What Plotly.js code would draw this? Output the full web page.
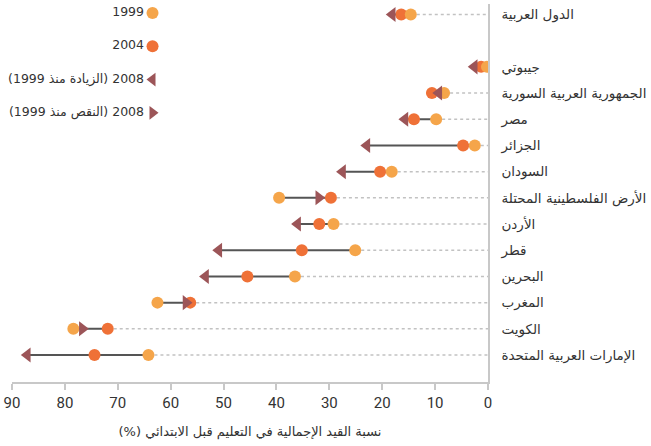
<!DOCTYPE html>
<html>
<head>
<meta charset="utf-8">
<script src="https://cdn.plot.ly/plotly-3.0.1.min.js"></script>
<style>body{margin:0;background:#fff}</style>
</head>
<body>
<div id="chart" style="width:651px;height:446px"></div>
<script>
// pre-primary gross enrolment ratio (%)
var countries = ['الدول العربية', 'جيبوتي', 'الجمهورية العربية السورية', 'مصر', 'الجزائر', 'السودان',
  'الأرض الفلسطينية المحتلة', 'الأردن', 'قطر', 'البحرين', 'المغرب', 'الكويت', 'الإمارات العربية المتحدة'];
var y1999 = [14.6, 0.2, 8.3, 9.8, 2.5, 18.2, 39.5, 29.2, 25.1, 36.5, 62.5, 78.4, 64.2];
var y2004 = [16.4, 1.3, 10.6, 14.0, 4.7, 20.4, 29.7, 31.9, 35.2, 45.5, 56.3, 71.9, 74.4];
var y2008 = [18.1, 2.6, 9.3, 15.7, 22.9, 27.5, 32.0, 36.0, 50.9, 53.4, 57.1, 76.7, 87.1];

var legendLabels = ['1999', '2004', '2008 (الزيادة منذ 1999)', '2008 (النقص منذ 1999)'];
var xTicks = [0, 10, 20, 30, 40, 50, 60, 70, 80, 90];

var c1999 = '#F5A54A', c2004 = '#EF7137', c2008 = '#9C5558';
var rtl = function (s) { return '\u202B' + s + '\u202C'; };

// first row (Arab States) is followed by an empty row
var rows = countries.map(function (d, i) { return i === 0 ? 0 : i + 1; });

var dotX = [], dotY = [], solX = [], solY = [];
countries.forEach(function (d, i) {
  var lo = Math.min(y1999[i], y2004[i], y2008[i]);
  var hi = Math.max(y1999[i], y2004[i], y2008[i]);
  dotX.push(lo, 0, null); dotY.push(rows[i], rows[i], null);
  solX.push(lo, hi, null); solY.push(rows[i], rows[i], null);
});

var tri = y2008.map(function (v, i) { return v >= y1999[i] ? 'triangle-left' : 'triangle-right'; });

var data = [
  {x: dotX, y: dotY, mode: 'lines', line: {color: '#c2c2c2', width: 1.5, dash: 'dot'}, hoverinfo: 'skip'},
  {x: solX, y: solY, mode: 'lines', line: {color: '#555', width: 2}, hoverinfo: 'skip'},
  {x: y2004, y: rows, mode: 'markers', marker: {color: c2004, size: 12}},
  {x: y1999, y: rows, mode: 'markers', marker: {color: c1999, size: 12}},
  {x: y2008, y: rows, mode: 'markers', marker: {color: c2008, size: 13, symbol: tri}},
  // legend, drawn as its own little subplot so the text sits left of the symbol
  {x: legendLabels.map(function () { return 1; }), y: legendLabels.map(function (d, i) { return i; }),
   xaxis: 'x2', yaxis: 'y2', mode: 'markers+text', cliponaxis: false, opacity: 1,
   text: legendLabels.map(rtl), textposition: 'middle left',
   textfont: {family: 'DejaVu Sans, sans-serif', size: 12.5, color: '#333'},
   marker: {color: [c1999, c2004, c2008, c2008], size: 12, opacity: 1,
            symbol: ['circle', 'circle', 'triangle-left', 'triangle-right']}}
];

var layout = {
  width: 651, height: 446,
  margin: {l: 12, r: 163, t: 4, b: 64},
  showlegend: false,
  plot_bgcolor: '#fff', paper_bgcolor: '#fff',
  font: {family: 'DejaVu Sans, sans-serif', color: '#333'},
  xaxis: {
    range: [90, 0], tickvals: xTicks, showgrid: false, zeroline: false,
    showline: true, linecolor: '#c8c8c8', linewidth: 1.5,
    ticks: 'outside', ticklen: 6, tickcolor: '#c8c8c8', tickwidth: 1.5,
    tickfont: {family: 'Liberation Sans Narrow, Roboto, sans-serif', size: 15, color: '#333'},
    title: {text: rtl('نسبة القيد الإجمالية في التعليم قبل الابتدائي (%)'), font: {size: 13, color: '#333'}, standoff: 16}
  },
  yaxis: {
    range: [14.03, -0.4], side: 'right', tickvals: rows, ticktext: countries,
    showgrid: false, zeroline: false, showline: true, linecolor: '#c8c8c8', linewidth: 1.5,
    ticks: '', ticklabelstandoff: 9,
    tickfont: {size: 13.5, color: '#333'}
  },
  xaxis2: {domain: [0, 0.31], range: [0, 1.05], anchor: 'y2', visible: false},
  yaxis2: {domain: [0.69, 0.998], range: [3.25, -0.25], anchor: 'x2', visible: false}
};

Plotly.newPlot('chart', data, layout, {displayModeBar: false});
</script>
</body>
</html>
